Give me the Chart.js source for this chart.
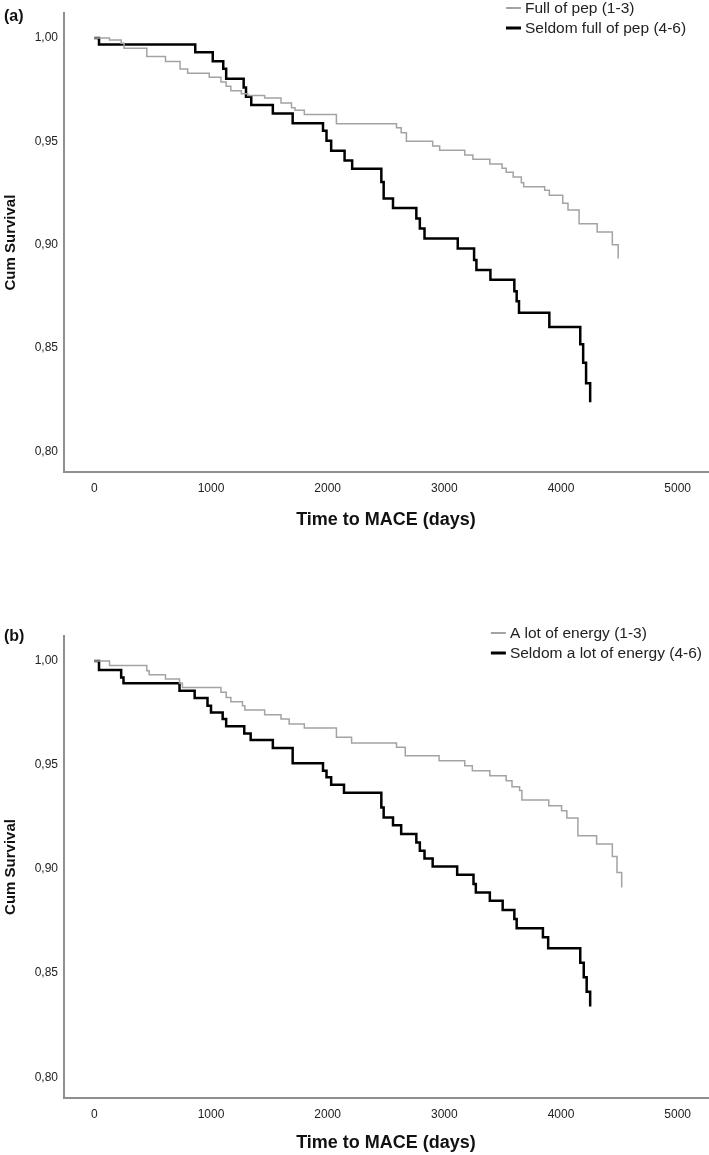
<!DOCTYPE html>
<html>
<head>
<meta charset="utf-8">
<script src="https://cdn.jsdelivr.net/npm/chart.js@4.4.0/dist/chart.umd.min.js"></script>
<style>
  body { margin: 0; background: #fff; }
  .panel { position: relative; width: 709px; }
</style>
</head>
<body>
<div class="panel" style="height:620px"><canvas id="chartA"></canvas></div>
<div class="panel" style="height:535px"><canvas id="chartB"></canvas></div>
<script>
// x ticks and y ticks
const xTicks = [0, 1000, 2000, 3000, 4000, 5000];
const yTicks = [0.80, 0.85, 0.90, 0.95, 1.00];

// (a) Full of pep (1-3)
const pepFullTime = [0, 130, 230, 255, 450, 610, 735, 800, 985, 1085, 1130, 1170, 1260, 1315, 1460, 1600, 1690, 1720, 1800, 2075, 2590, 2630, 2675, 2900, 2960, 3175, 3245, 3390, 3495, 3530, 3590, 3660, 3680, 3860, 3900, 4015, 4060, 4155, 4310, 4440, 4490];
const pepFullSurv = [1.000, 0.999, 0.9975, 0.995, 0.991, 0.9886, 0.985, 0.983, 0.981, 0.9787, 0.9766, 0.9745, 0.973, 0.9722, 0.971, 0.9686, 0.9662, 0.965, 0.963, 0.9585, 0.9566, 0.9542, 0.9501, 0.9477, 0.9457, 0.9434, 0.9413, 0.939, 0.937, 0.935, 0.9328, 0.930, 0.928, 0.9263, 0.9239, 0.920, 0.9168, 0.9101, 0.9061, 0.900, 0.8933];

// (a) Seldom full of pep (4-6)
const pepSeldomTime = [0, 40, 865, 1015, 1105, 1130, 1280, 1300, 1345, 1530, 1700, 1960, 1990, 2030, 2145, 2210, 2460, 2480, 2560, 2760, 2790, 2830, 3115, 3255, 3275, 3395, 3600, 3620, 3640, 3900, 4165, 4190, 4215, 4250];
const pepSeldomSurv = [1.000, 0.9968, 0.9931, 0.9888, 0.9851, 0.9803, 0.976, 0.9716, 0.9676, 0.9635, 0.9588, 0.9551, 0.9503, 0.9455, 0.9407, 0.9367, 0.9303, 0.9223, 0.9178, 0.9127, 0.9078, 0.903, 0.8982, 0.8926, 0.8878, 0.883, 0.8774, 0.8726, 0.867, 0.8602, 0.8518, 0.8429, 0.833, 0.8237];

// (b) A lot of energy (1-3)
const energyLotTime = [0, 130, 450, 470, 610, 730, 755, 1085, 1130, 1170, 1270, 1290, 1460, 1600, 1670, 1800, 2075, 2205, 2590, 2665, 2955, 3175, 3240, 3390, 3530, 3580, 3645, 3665, 3895, 4005, 4050, 4145, 4305, 4440, 4480, 4520];
const energyLotSurv = [1.000, 0.9978, 0.9953, 0.9934, 0.9913, 0.9893, 0.9873, 0.985, 0.9825, 0.9804, 0.9785, 0.9764, 0.9742, 0.9721, 0.9697, 0.9678, 0.9633, 0.9606, 0.9585, 0.9545, 0.9521, 0.9497, 0.9473, 0.9449, 0.9425, 0.9396, 0.9377, 0.9332, 0.9304, 0.928, 0.9245, 0.916, 0.912, 0.906, 0.8984, 0.8912];

// (b) Seldom a lot of energy (4-6)
const energySeldomTime = [0, 40, 230, 250, 730, 860, 970, 1000, 1100, 1130, 1285, 1340, 1530, 1700, 1960, 1990, 2030, 2140, 2460, 2480, 2560, 2630, 2760, 2790, 2830, 2900, 3110, 3250, 3270, 3390, 3500, 3600, 3620, 3845, 3890, 4165, 4195, 4220, 4250];
const energySeldomSurv = [1.000, 0.9957, 0.9921, 0.9893, 0.9857, 0.9822, 0.9785, 0.9753, 0.9721, 0.9686, 0.9652, 0.962, 0.9582, 0.9508, 0.9473, 0.9441, 0.9405, 0.9367, 0.9296, 0.9248, 0.9211, 0.9168, 0.9128, 0.9088, 0.9051, 0.9013, 0.8973, 0.8928, 0.8888, 0.8848, 0.8803, 0.876, 0.8716, 0.8672, 0.8619, 0.855, 0.848, 0.841, 0.834];

const FONT = '"Liberation Sans", Arial, sans-serif';
Chart.defaults.font.family = FONT;

function toPoints(times, surv) {
    return times.map((t, i) => ({ x: t, y: surv[i] }));
}

// panel letter + legend drawn inside the plot, like SPSS does
const panelDecor = {
    id: "panelDecor",
    afterDraw(chart, args, opts) {
        const ctx = chart.ctx;
        ctx.save();
        ctx.textBaseline = "middle";
        ctx.fillStyle = "#111";
        ctx.font = "bold 16px " + FONT;
        ctx.fillText(opts.label, 4, opts.labelY);
        ctx.font = "15.5px " + FONT;
        // keep the longest label inside the canvas
        const widest = Math.max(...chart.data.datasets.map((ds) => ctx.measureText(ds.label).width));
        const left = Math.min(506, 702 - widest - 19);
        chart.data.datasets.forEach((ds, i) => {
            const y = opts.legendTop + i * 20;
            ctx.strokeStyle = ds.borderColor;
            ctx.lineWidth = ds.borderWidth + 0.5;
            ctx.beginPath();
            ctx.moveTo(left, y);
            ctx.lineTo(left + 15, y);
            ctx.stroke();
            ctx.fillStyle = "#222";
            ctx.fillText(ds.label, left + 19, y + 1);
        });
        ctx.restore();
    },
};

function makeKm(id, labels, greyPts, blackPts, pad, xHeight, decor) {
    new Chart(document.getElementById(id).getContext("2d"), {
        type: "line",
        data: {
            datasets: [
                { label: labels[0], data: greyPts, borderColor: "#a3a3a3", borderWidth: 1.5, stepped: "before", pointRadius: 0, fill: false },
                { label: labels[1], data: blackPts, borderColor: "#000000", borderWidth: 2.5, stepped: "before", pointRadius: 0, fill: false },
            ],
        },
        options: {
            responsive: true,
            maintainAspectRatio: false,
            animation: false,
            layout: { padding: pad },
            plugins: { legend: { display: false }, tooltip: { enabled: false }, panelDecor: decor },
            scales: {
                x: {
                    type: "linear",
                    min: -260,
                    max: 5260,
                    afterBuildTicks: (s) => { s.ticks = xTicks.map((v) => ({ value: v })); },
                    afterFit: (s) => { s.height = xHeight; },
                    grid: { display: false, drawTicks: false },
                    border: { color: "#8f8f8f", width: 2 },
                    ticks: { padding: 9, color: "#222", font: { size: 12 }, maxRotation: 0, autoSkip: false, callback: (v) => String(v) },
                    title: { display: true, text: "Time to MACE (days)", color: "#111", font: { size: 18, weight: "bold" }, padding: { top: 0, bottom: 0 } },
                },
                y: {
                    type: "linear",
                    min: 0.79,
                    max: 1.012,
                    afterBuildTicks: (s) => { s.ticks = yTicks.map((v) => ({ value: v })); },
                    afterFit: (s) => { s.width = 64; },
                    grid: { display: false, drawTicks: false },
                    border: { color: "#8f8f8f", width: 2 },
                    ticks: { padding: 6, color: "#222", font: { size: 12 }, callback: (v) => v.toFixed(2).replace(".", ",") },
                    title: { display: true, text: "Cum Survival", color: "#111", font: { size: 15, weight: "bold" }, padding: { top: 2, bottom: 0 } },
                },
            },
        },
        plugins: [panelDecor],
    });
}

document.addEventListener("DOMContentLoaded", function () {
    makeKm("chartA", ["Full of pep (1-3)", "Seldom full of pep (4-6)"],
        toPoints(pepFullTime, pepFullSurv), toPoints(pepSeldomTime, pepSeldomSurv),
        { top: 10, bottom: 89, left: 0, right: 1 }, 59, { label: "(a)", labelY: 17, legendTop: 8 });
    makeKm("chartB", ["A lot of energy (1-3)", "Seldom a lot of energy (4-6)"],
        toPoints(energyLotTime, energyLotSurv), toPoints(energySeldomTime, energySeldomSurv),
        { top: 16, bottom: 1, left: 0, right: 1 }, 56, { label: "(b)", labelY: 17, legendTop: 13 });
});
</script>
</body>
</html>
